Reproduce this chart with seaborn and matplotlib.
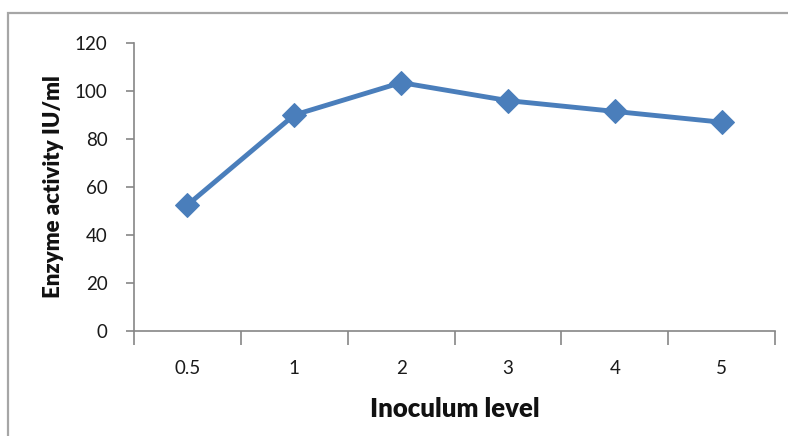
import matplotlib
matplotlib.use("Agg")
import matplotlib.pyplot as plt
import seaborn as sns
import pandas as pd
import numpy as np
from matplotlib.patches import Rectangle

categories = ["0.5", "1", "2", "3", "4", "5"]
activity = [52.5, 90, 103.5, 96, 91.5, 87]
yticks = [0, 20, 40, 60, 80, 100, 120]

sns.set_style("white")
plt.rcParams['font.family'] = ['Lato', 'DejaVu Sans']

df = pd.DataFrame({"pos": range(len(categories)), "activity": activity})

fig = plt.figure(figsize=(7.88, 4.36), dpi=100)
ax = fig.add_axes([134/788, 105/436, (775-134)/788, (331-43)/436])

sns.lineplot(data=df, x="pos", y="activity", ax=ax, color="#4A7EBB",
             linewidth=3.5, marker="D", markersize=12.5,
             markeredgecolor="#4A7EBB", markerfacecolor="#4A7EBB")

ax.set_xlim(-0.5, len(categories) - 0.5)
ax.set_ylim(0, 120)
ax.set_yticks(yticks)
ax.set_yticklabels([str(v) for v in yticks], fontsize=13.5, color="#1a1a1a")

ax.set_xticks(np.arange(-0.5, len(categories), 1.0))
ax.set_xticklabels([])
ax.set_xticks(range(len(categories)), minor=True)
ax.set_xticklabels(categories, minor=True, fontsize=13.5, color="#1a1a1a")
ax.tick_params(axis="x", which="major", direction="out", length=10, width=1.2,
               color="#868686", bottom=True)
ax.tick_params(axis="x", which="minor", length=0, pad=21)
ax.tick_params(axis="y", direction="out", length=6, width=1.2, color="#868686",
               left=True, pad=13)

for s in ["top", "right"]:
    ax.spines[s].set_visible(False)
for s in ["left", "bottom"]:
    ax.spines[s].set_color("#868686")
    ax.spines[s].set_linewidth(1.2)

ax.set_xlabel("Inoculum level", fontsize=18.5, fontweight="heavy", labelpad=14,
              color="#111111")
ax.set_ylabel("Enzyme activity IU/ml", fontsize=16, fontweight="heavy", labelpad=8,
              color="#111111")

fig.patches.append(Rectangle((8/788, -0.1), 1.2, (436-13)/436 + 0.1,
                             transform=fig.transFigure, fill=False,
                             edgecolor="#a6a6a6", linewidth=1.6, zorder=0))

fig.savefig("out.png", dpi=100)
